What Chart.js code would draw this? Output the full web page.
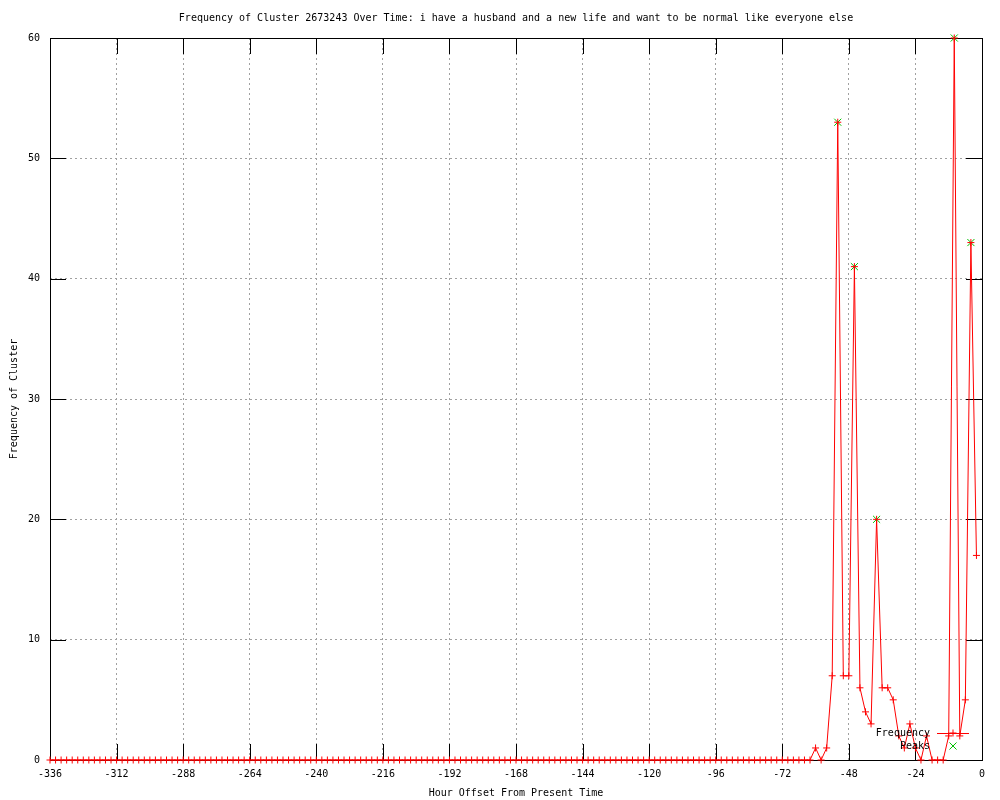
<!DOCTYPE html>
<html>
<head>
<meta charset="utf-8">
<script src="https://cdn.jsdelivr.net/npm/chart.js"></script>
<style>
  html, body { margin: 0; padding: 0; background: #fff; }
</style>
</head>
<body>
<canvas id="chart" width="1000" height="800"></canvas>
<script>
// hour offsets, one sample every 2 hours
const hours = [
  -336, -334, -332, -330, -328, -326, -324, -322, -320, -318, -316, -314,
  -312, -310, -308, -306, -304, -302, -300, -298, -296, -294, -292, -290,
  -288, -286, -284, -282, -280, -278, -276, -274, -272, -270, -268, -266,
  -264, -262, -260, -258, -256, -254, -252, -250, -248, -246, -244, -242,
  -240, -238, -236, -234, -232, -230, -228, -226, -224, -222, -220, -218,
  -216, -214, -212, -210, -208, -206, -204, -202, -200, -198, -196, -194,
  -192, -190, -188, -186, -184, -182, -180, -178, -176, -174, -172, -170,
  -168, -166, -164, -162, -160, -158, -156, -154, -152, -150, -148, -146,
  -144, -142, -140, -138, -136, -134, -132, -130, -128, -126, -124, -122,
  -120, -118, -116, -114, -112, -110, -108, -106, -104, -102, -100, -98,
  -96, -94, -92, -90, -88, -86, -84, -82, -80, -78, -76, -74,
  -72, -70, -68, -66, -64, -62, -60, -58, -56, -54, -52, -50,
  -48, -46, -44, -42, -40, -38, -36, -34, -32, -30, -28, -26,
  -24, -22, -20, -18, -16, -14, -12, -10, -8, -6, -4, -2
];
const frequency = [
  0, 0, 0, 0, 0, 0, 0, 0, 0, 0, 0, 0,
  0, 0, 0, 0, 0, 0, 0, 0, 0, 0, 0, 0,
  0, 0, 0, 0, 0, 0, 0, 0, 0, 0, 0, 0,
  0, 0, 0, 0, 0, 0, 0, 0, 0, 0, 0, 0,
  0, 0, 0, 0, 0, 0, 0, 0, 0, 0, 0, 0,
  0, 0, 0, 0, 0, 0, 0, 0, 0, 0, 0, 0,
  0, 0, 0, 0, 0, 0, 0, 0, 0, 0, 0, 0,
  0, 0, 0, 0, 0, 0, 0, 0, 0, 0, 0, 0,
  0, 0, 0, 0, 0, 0, 0, 0, 0, 0, 0, 0,
  0, 0, 0, 0, 0, 0, 0, 0, 0, 0, 0, 0,
  0, 0, 0, 0, 0, 0, 0, 0, 0, 0, 0, 0,
  0, 0, 0, 0, 0, 0, 1, 0, 1, 7, 53, 7,
  7, 41, 6, 4, 3, 20, 6, 6, 5, 2, 1, 3,
  1, 0, 2, 0, 0, 0, 2, 60, 2, 5, 43, 17
];
const peakHours = [-52, -46, -38, -10, -4];
const peakValues = [53, 41, 20, 60, 43];

const xTickValues = [-336, -312, -288, -264, -240, -216, -192, -168, -144, -120, -96, -72, -48, -24, 0];
const yTickValues = [0, 10, 20, 30, 40, 50, 60];

const FONT = "'DejaVu Sans Mono', 'Liberation Mono', monospace";

// gnuplot style: black frame with inward ticks on all four sides
const framePlugin = {
  id: 'frame',
  afterLayout(chart) {
    // centre the title over the plot, not the whole canvas
    const t = chart.titleBlock;
    if (t) { t.left = chart.chartArea.left; t.right = chart.chartArea.right; t.width = t.right - t.left; }
  },
  beforeDatasetsDraw(chart) {
    const { ctx, chartArea: a, scales } = chart;
    const len = 16;
    ctx.save();
    ctx.setLineDash([]);
    ctx.strokeStyle = '#000';
    ctx.lineWidth = 1;
    ctx.beginPath();
    scales.x.ticks.forEach(t => {
      const px = Math.round(scales.x.getPixelForValue(t.value)) + 0.5;
      ctx.moveTo(px, a.bottom); ctx.lineTo(px, a.bottom - len);
      ctx.moveTo(px, a.top); ctx.lineTo(px, a.top + len);
    });
    scales.y.ticks.forEach(t => {
      const py = Math.round(scales.y.getPixelForValue(t.value)) + 0.5;
      ctx.moveTo(a.left, py); ctx.lineTo(a.left + len, py);
      ctx.moveTo(a.right, py); ctx.lineTo(a.right - len, py);
    });
    ctx.stroke();
    ctx.strokeRect(Math.round(a.left) + 0.5, Math.round(a.top) + 0.5,
      Math.round(a.right - a.left), Math.round(a.bottom - a.top));
    ctx.restore();
  }
};

// key placed inside the plot, bottom right, text to the left of the sample
const keyPlugin = {
  id: 'key',
  afterDraw(chart) {
    const { ctx, chartArea: a } = chart;
    const ds = chart.data.datasets;
    ctx.save();
    ctx.setLineDash([]);
    ctx.font = '10px ' + FONT;
    ctx.fillStyle = '#000';
    ctx.textAlign = 'right';
    ctx.textBaseline = 'middle';
    ds.forEach((d, i) => {
      const y = a.bottom - 27 + i * 13;
      ctx.fillText(d.label, a.right - 52, y);
      const cx = a.right - 29;
      if (d.showLine !== false) {
        ctx.strokeStyle = d.borderColor;
        ctx.lineWidth = 1;
        ctx.beginPath();
        ctx.moveTo(a.right - 45, y + 0.5);
        ctx.lineTo(a.right - 13, y + 0.5);
        ctx.stroke();
      }
      ctx.strokeStyle = d.pointBorderColor;
      Chart.helpers.drawPoint(ctx, { pointStyle: d.pointStyle, radius: d.pointRadius, borderWidth: 1 }, cx, y);
    });
    ctx.restore();
  }
};

new Chart(document.getElementById('chart').getContext('2d'), {
  type: 'line',
  data: {
    datasets: [
      {
        label: 'Frequency',
        data: hours.map((h, i) => ({ x: h, y: frequency[i] })),
        borderColor: '#ff0000',
        borderWidth: 1,
        pointStyle: 'cross',
        pointRadius: 3.5,
        pointBorderColor: '#ff0000',
        pointBorderWidth: 1,
        tension: 0,
        fill: false,
        clip: false
      },
      {
        label: 'Peaks',
        data: peakHours.map((h, i) => ({ x: h, y: peakValues[i] })),
        showLine: false,
        pointStyle: 'crossRot',
        pointRadius: 5,
        pointBorderColor: '#00c000',
        pointBorderWidth: 1,
        clip: false
      }
    ]
  },
  options: {
    responsive: false,
    animation: false,
    devicePixelRatio: 1,
    layout: { padding: { left: 0, right: 18, top: 0, bottom: 0 } },
    plugins: {
      legend: { display: false },
      tooltip: { enabled: false },
      title: {
        display: true,
        text: 'Frequency of Cluster 2673243 Over Time: i have a husband and a new life and want to be normal like everyone else',
        color: '#000',
        font: { family: FONT, size: 10, weight: 'normal' },
        padding: { top: 12, bottom: 14 }
      }
    },
    scales: {
      x: {
        type: 'linear',
        min: -336,
        max: 0,
        afterBuildTicks: s => { s.ticks = xTickValues.map(v => ({ value: v })); },
        afterFit: s => { s.height = 40; },
        ticks: { color: '#000', font: { family: FONT, size: 10 }, padding: 8, maxRotation: 0, autoSkip: false },
        grid: { color: '#a0a0a0', drawTicks: false },
        border: { display: false, dash: [2, 3] },
        title: {
          display: true,
          text: 'Hour Offset From Present Time',
          color: '#000',
          font: { family: FONT, size: 10 },
          padding: { top: 0, bottom: 1 }
        }
      },
      y: {
        min: 0,
        max: 60,
        afterBuildTicks: s => { s.ticks = yTickValues.map(v => ({ value: v })); },
        afterFit: s => { s.width = 50; },
        ticks: { color: '#000', font: { family: FONT, size: 10 }, padding: 10 },
        grid: { color: '#a0a0a0', drawTicks: false },
        border: { display: false, dash: [2, 3] },
        title: {
          display: true,
          text: 'Frequency of Cluster',
          color: '#000',
          font: { family: FONT, size: 10 },
          padding: { top: 8, bottom: 0 }
        }
      }
    }
  },
  plugins: [framePlugin, keyPlugin]
});
</script>
</body>
</html>
